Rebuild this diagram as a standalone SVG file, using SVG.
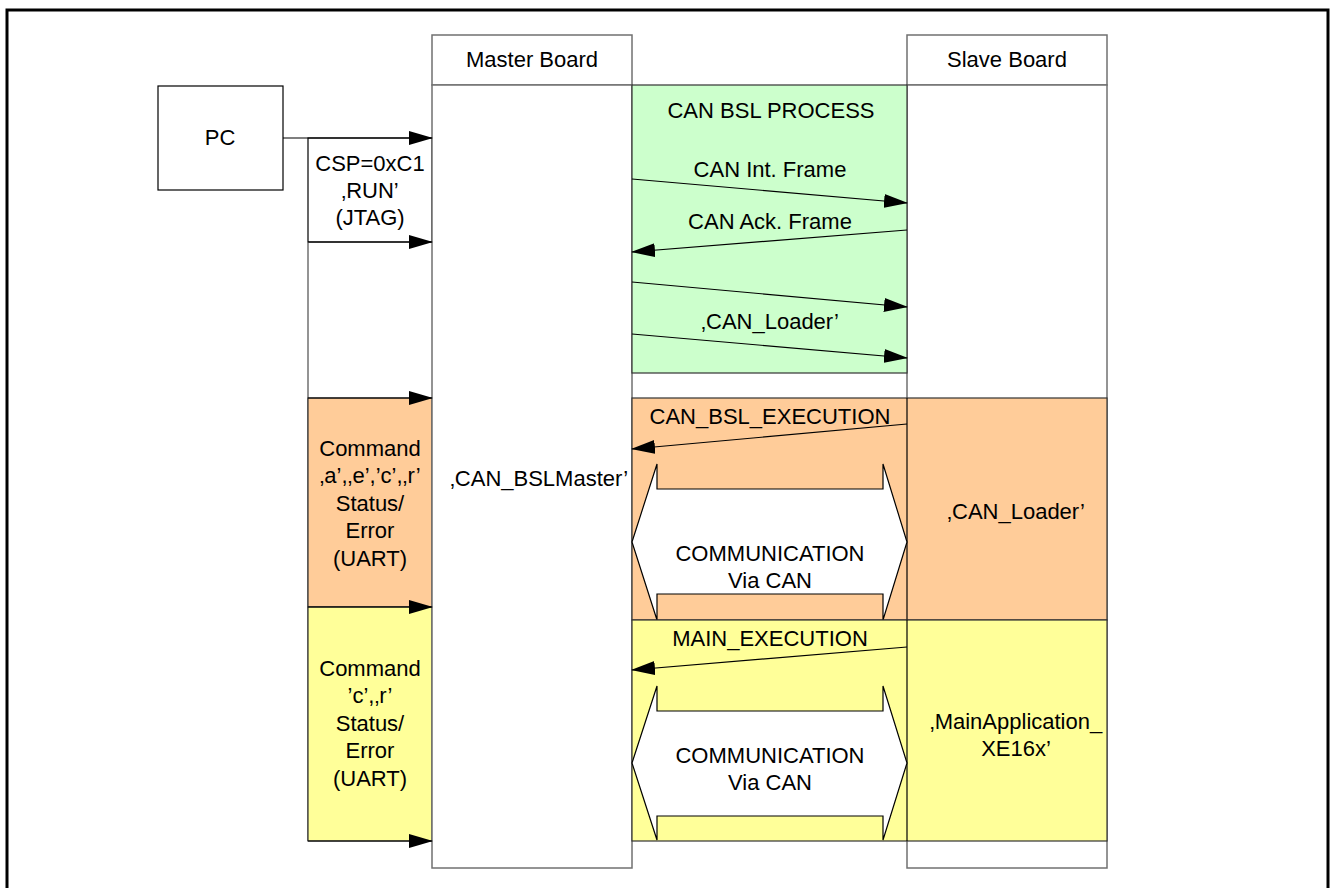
<svg xmlns="http://www.w3.org/2000/svg" width="1331" height="888" viewBox="0 0 1331 888">
<style>
text{font-family:"Liberation Sans",Arial,sans-serif;font-size:22px;fill:#000;text-anchor:middle}
.col{fill:#fff;stroke:#707070;stroke-width:1.5}
.reg{stroke:#333;stroke-width:1.2}
.ln{stroke:#000;stroke-width:1.2;fill:none}
.dbl{fill:#fff;stroke:#000;stroke-width:1.2}
</style>
<defs>
<marker id="ah" markerUnits="userSpaceOnUse" markerWidth="24" markerHeight="14" refX="23" refY="7" orient="auto">
<path d="M0,0 L24,7 L0,14 Z" fill="#000"/>
</marker>
</defs>
<rect x="7" y="10" width="1321" height="900" fill="#fff" stroke="#000" stroke-width="3"/>

<g id="pc">
<rect x="158" y="86" width="125" height="104" fill="#fff" stroke="#000" stroke-width="1.2"/>
<text x="220" y="145">PC</text>
</g>

<g id="pc-channel">
<rect x="308" y="138" width="124" height="104" fill="#fff" stroke="#000" stroke-width="1.2"/>
<line x1="308" y1="242" x2="308" y2="841" stroke="#707070" stroke-width="1.5"/>
<rect class="reg" x="308" y="398" width="124" height="209" fill="#FFCC99"/>
<rect class="reg" x="308" y="607" width="124" height="234" fill="#FFFF99"/>
<text x="370" y="171">CSP=0xC1</text>
<text x="370" y="198">‚RUN’</text>
<text x="370" y="225">(JTAG)</text>
<text x="370" y="456">Command</text>
<text x="370" y="483">‚a’,‚e’,’c’,‚r’</text>
<text x="370" y="511">Status/</text>
<text x="370" y="538">Error</text>
<text x="370" y="566">(UART)</text>
<text x="370" y="676">Command</text>
<text x="370" y="703">’c’,‚r’</text>
<text x="370" y="731">Status/</text>
<text x="370" y="758">Error</text>
<text x="370" y="786">(UART)</text>
</g>

<g id="master">
<rect class="col" x="432" y="35" width="200" height="50"/>
<rect class="col" x="432" y="85" width="200" height="783"/>
<text x="532" y="67">Master Board</text>
<text x="539" y="486">‚CAN_BSLMaster’</text>
</g>

<g id="slave">
<rect class="col" x="907" y="35" width="200" height="50"/>
<rect class="col" x="907" y="85" width="200" height="783"/>
<text x="1007" y="67">Slave Board</text>
</g>

<g id="can-bsl-process">
<rect class="reg" x="632" y="85" width="275" height="288" fill="#CCFFCC"/>
<text x="771" y="118">CAN BSL PROCESS</text>
<text x="770" y="177">CAN Int. Frame</text>
<text x="770" y="229">CAN Ack. Frame</text>
<text x="770" y="329">‚CAN_Loader’</text>
</g>

<g id="can-bsl-execution">
<rect class="reg" x="632" y="398" width="475" height="222" fill="#FFCC99"/>
<line x1="907" y1="398" x2="907" y2="620" stroke="#000" stroke-width="1.2"/>
<text x="770" y="424">CAN_BSL_EXECUTION</text>
<polygon class="dbl" points="632,542 657,464 657,489 883,489 883,464 907,542 883,620 883,594 657,594 657,620"/>
<text x="770" y="561">COMMUNICATION</text>
<text x="770" y="588">Via CAN</text>
<text x="1016" y="519">‚CAN_Loader’</text>
</g>

<g id="main-execution">
<rect class="reg" x="632" y="620" width="475" height="221" fill="#FFFF99"/>
<line x1="907" y1="620" x2="907" y2="841" stroke="#000" stroke-width="1.2"/>
<text x="770" y="646">MAIN_EXECUTION</text>
<polygon class="dbl" points="632,763 657,686 657,711 883,711 883,686 907,763 883,840 883,816 657,816 657,840"/>
<text x="770" y="763">COMMUNICATION</text>
<text x="770" y="790">Via CAN</text>
<text x="1016" y="729">‚MainApplication_</text>
<text x="1016" y="756">XE16x’</text>
</g>

<g id="connectors">
<line class="ln" x1="283" y1="138" x2="432" y2="138" marker-end="url(#ah)"/>
<line class="ln" x1="308" y1="242" x2="432" y2="242" marker-end="url(#ah)"/>
<line class="ln" x1="308" y1="398" x2="432" y2="398" marker-end="url(#ah)"/>
<line class="ln" x1="308" y1="607" x2="432" y2="607" marker-end="url(#ah)"/>
<line class="ln" x1="308" y1="841" x2="432" y2="841" marker-end="url(#ah)"/>
<line class="ln" x1="632" y1="179" x2="907" y2="203" marker-end="url(#ah)"/>
<line class="ln" x1="907" y1="230" x2="632" y2="252" marker-end="url(#ah)"/>
<line class="ln" x1="632" y1="282" x2="907" y2="307" marker-end="url(#ah)"/>
<line class="ln" x1="632" y1="334" x2="907" y2="358" marker-end="url(#ah)"/>
<line class="ln" x1="907" y1="424" x2="632" y2="449" marker-end="url(#ah)"/>
<line class="ln" x1="907" y1="647" x2="632" y2="670" marker-end="url(#ah)"/>
</g>
</svg>
